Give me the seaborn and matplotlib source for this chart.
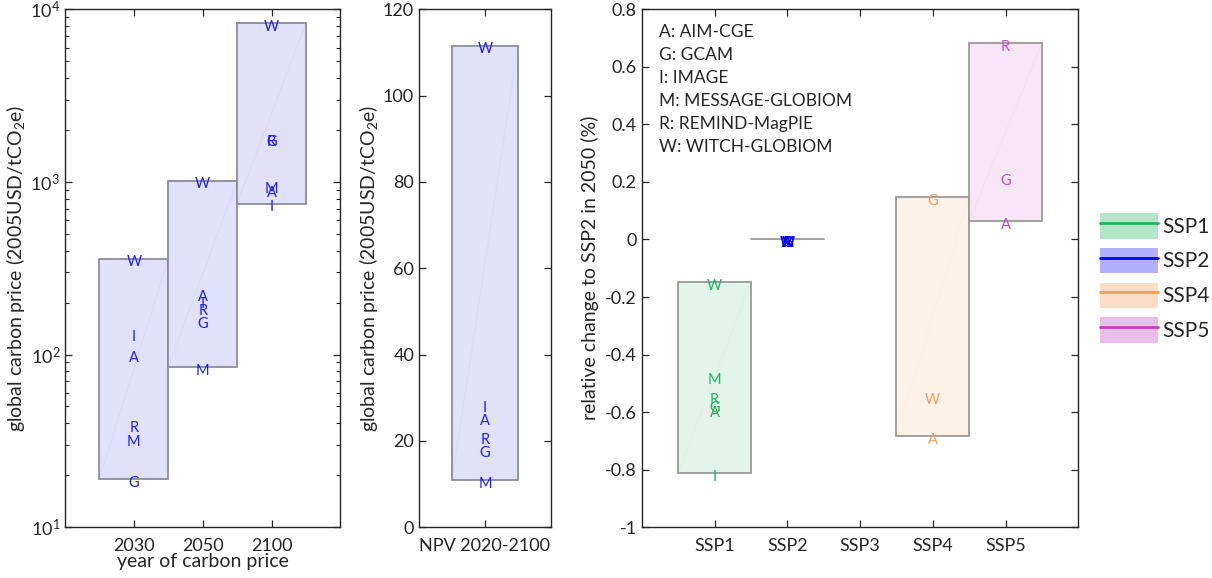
import numpy as np
import pandas as pd
import matplotlib
matplotlib.use("Agg")
import matplotlib.pyplot as plt
import seaborn as sns
from matplotlib.patches import Patch
from matplotlib.lines import Line2D
from matplotlib.ticker import LogLocator, FixedLocator, FuncFormatter, NullFormatter

# ---------------- data ----------------
models = ["A", "G", "I", "M", "R", "W"]
model_names = ["AIM-CGE", "GCAM", "IMAGE", "MESSAGE-GLOBIOM", "REMIND-MagPIE", "WITCH-GLOBIOM"]

years = ["2030", "2050", "2100"]
price_2030 = [100, 19, 133, 32.6, 39.4, 359]
price_2050 = [226, 157, 205, 84.7, 187, 1018]
price_2100 = [910, 1800, 750, 950, 1780, 8340]

npv_label = "NPV 2020-2100"
npv_price = [25.4, 18.0, 28.4, 10.8, 21.0, 111.6]

ssp_ticks = ["SSP1", "SSP2", "SSP3", "SSP4", "SSP5"]
ssp1_models = ["A", "G", "I", "M", "R", "W"]
ssp1_change = [-0.591, -0.573, -0.812, -0.475, -0.544, -0.148]
ssp2_models = ["A", "G", "I", "M", "R", "W"]
ssp2_change = [0, 0, 0, 0, 0, 0]
ssp4_models = ["A", "G", "W"]
ssp4_change = [-0.685, 0.148, -0.544]
ssp5_models = ["A", "G", "R"]
ssp5_change = [0.064, 0.215, 0.682]

legend_labels = ["SSP1", "SSP2", "SSP4", "SSP5"]

# ---------------- style ----------------
sns.set_theme(style="ticks")
plt.rcParams["font.family"] = ["Lato", "DejaVu Sans"]
plt.rcParams["mathtext.fontset"] = "custom"
plt.rcParams["mathtext.rm"] = "Lato"
plt.rcParams["mathtext.it"] = "Lato:italic"
plt.rcParams["axes.unicode_minus"] = False

DARK = "#262626"
FS_TICK = 13
FS_LAB = 14
FS_LET = 10.5

fig = plt.figure(figsize=(12.12, 5.78), dpi=100)
bottom, height = 0.0882, 0.8954
axL = fig.add_axes([0.0536, bottom, 0.2273, height])
axM = fig.add_axes([0.3457, bottom, 0.1089, height])
axR = fig.add_axes([0.5295, bottom, 0.3602, height])


def style_axes(ax):
    for s in ax.spines.values():
        s.set_color(DARK)
        s.set_linewidth(1.0)
        s.set_visible(True)
    ax.tick_params(which="both", direction="in", top=True, right=True,
                   colors=DARK, labelsize=FS_TICK, labelcolor=DARK)
    ax.tick_params(which="major", length=5, width=0.9)
    ax.tick_params(which="minor", length=3, width=0.8)
    ax.tick_params(axis="x", which="major", pad=8)


def draw_box(ax, x, vals, letters, face, edge, tcol):
    lo, hi = min(vals), max(vals)
    if hi > lo:
        ax.bar(x, hi - lo, bottom=lo, width=1.0, color=face, edgecolor=edge,
               linewidth=1.3, zorder=1)
        ax.plot([x - 0.5, x + 0.5], [lo, hi], color=tcol, alpha=0.035, lw=0.8, zorder=2)
    else:
        ax.plot([x - 0.5, x + 0.5], [lo, hi], color=edge, lw=1.3, zorder=1)
    for l, v in zip(letters, vals):
        ax.annotate(l, (x, v), xytext=(0, -5.5), textcoords="offset points",
                    ha="center", va="baseline", color=tcol, fontsize=FS_LET, zorder=3)


# ---------------- left panel ----------------
blue_face = "#e1e1fb"
blue_edge = "#8c8c99"
blue_txt = "#1f1fff"
for i, vals in enumerate([price_2030, price_2050, price_2100]):
    draw_box(axL, i + 1, vals, models, blue_face, blue_edge, blue_txt)
axL.set_yscale("log")
axL.set_ylim(10, 1e4)
axL.set_xlim(0, 4)
axL.set_xticks([1, 2, 3])
axL.set_xticklabels(years)
axL.yaxis.set_major_locator(LogLocator(base=10, numticks=10))
axL.yaxis.set_minor_locator(LogLocator(base=10, subs=np.arange(2, 10), numticks=20))
axL.yaxis.set_minor_formatter(NullFormatter())
axL.set_xlabel("year of carbon price", fontsize=FS_LAB, color=DARK, labelpad=-1)
axL.set_ylabel("global carbon price (2005USD/tCO$_2$e)", fontsize=FS_LAB, color=DARK, labelpad=2)
style_axes(axL)

# ---------------- middle panel ----------------
draw_box(axM, 1, npv_price, models, blue_face, blue_edge, blue_txt)
axM.set_xlim(0, 2)
axM.set_ylim(0, 120)
axM.set_xticks([1])
axM.set_xticklabels([npv_label])
axM.set_yticks(np.arange(0, 121, 20))
axM.set_ylabel("global carbon price (2005USD/tCO$_2$e)", fontsize=FS_LAB, color=DARK, labelpad=2)
style_axes(axM)

# ---------------- right panel ----------------
ssp_style = {
    "SSP1": dict(face="#e3f5ea", edge="#9a9a9a", txt="#1fb45a", leg_face="#b3e6c8", leg_line="#22b25a"),
    "SSP2": dict(face="#e1e1fb", edge="#9a9a9a", txt="#0000ff", leg_face="#b0b0ff", leg_line="#0000ff"),
    "SSP4": dict(face="#fdf2e8", edge="#9a9a9a", txt="#f5a05a", leg_face="#fcdcc4", leg_line="#f5a050"),
    "SSP5": dict(face="#f6e6f6", edge="#9a9a9a", txt="#c84bc8", leg_face="#eabeea", leg_line="#c840c0"),
}
ssp_data = {
    "SSP1": (1, ssp1_models, ssp1_change),
    "SSP2": (2, ssp2_models, ssp2_change),
    "SSP4": (4, ssp4_models, ssp4_change),
    "SSP5": (5, ssp5_models, ssp5_change),
}
for name, (x, lets, vals) in ssp_data.items():
    st = ssp_style[name]
    draw_box(axR, x, vals, lets, st["face"], st["edge"], st["txt"])

axR.set_xlim(0, 6)
axR.set_ylim(-1, 0.8)
axR.set_xticks(range(1, 6))
axR.set_xticklabels(ssp_ticks)
axR.yaxis.set_major_locator(FixedLocator(np.round(np.arange(-1, 0.81, 0.2), 1)))
axR.yaxis.set_major_formatter(FuncFormatter(lambda v, p: f"{round(v, 1) + 0.0:g}"))
axR.set_ylabel("relative change to SSP2 in 2050 (%)", fontsize=FS_LAB, color=DARK, labelpad=4)
style_axes(axR)

for k, (m, nm) in enumerate(zip(models, model_names)):
    axR.text(0.04, 0.957 - k * 0.0446, f"{m}: {nm}", transform=axR.transAxes,
             ha="left", va="center", fontsize=12.5, color=DARK)

# ---------------- legend ----------------
handles = []
for name in legend_labels:
    st = ssp_style[name]
    handles.append((Patch(facecolor=st["leg_face"], edgecolor="none"),
                    Line2D([], [], color=st["leg_line"], lw=2)))
fig.legend(handles, legend_labels, loc="center left",
           bbox_to_anchor=(1100 / 1212, 1 - 278 / 578), frameon=False,
           fontsize=15, handlelength=2.8, handleheight=1.5, handletextpad=0.2,
           labelspacing=0.45, labelcolor=DARK, borderpad=0, borderaxespad=0)

fig.savefig("out.png", dpi=100)
